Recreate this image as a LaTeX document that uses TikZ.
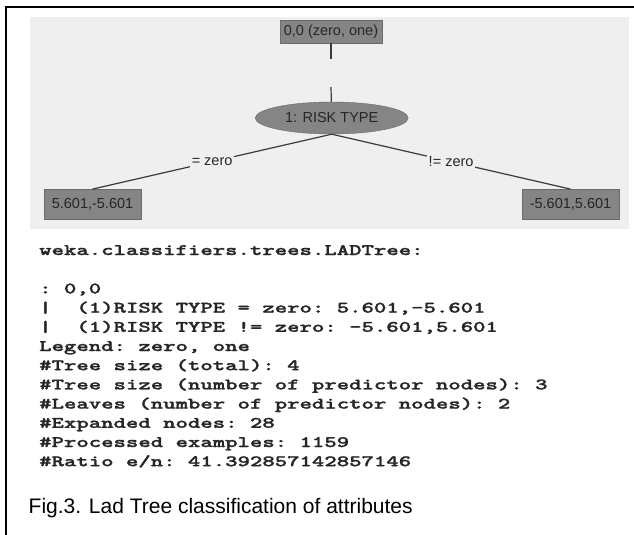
\documentclass[tikz,border=0pt]{standalone}
\usepackage{fontspec}
\setsansfont{Liberation Sans}
\newfontfamily\wekaface{lmmonolt10-bold.otf}[FakeBold=1.3]
\usepackage{tikz}
\usepackage{graphicx}
\usetikzlibrary{shapes.geometric}
\definecolor{panelgray}{HTML}{EFEFEF}
\definecolor{boxgray}{HTML}{858585}
\definecolor{boxedge}{HTML}{6B6B6B}
\definecolor{inkgray}{HTML}{262626}
\definecolor{edgegray}{HTML}{3A3A3A}
\newcommand{\treefont}{\sffamily\fontsize{14.5}{17}\selectfont}
\newcommand{\wekafont}{\wekaface\fontsize{16}{19.2}\selectfont\frenchspacing}

\begin{document}
\begin{tikzpicture}[x=1pt, y=-1pt,
    treebox/.style={draw=boxedge, fill=boxgray, text=inkgray, font=\treefont,
        inner sep=0pt, minimum width=97pt, minimum height=30pt},
    riskellipse/.style={ellipse, draw=boxedge, fill=boxgray, text=inkgray,
        font=\treefont, inner sep=0pt, minimum width=153pt, minimum height=32pt},
    link/.style={draw=edgegray, line width=1.2pt},
    branch/.style={fill=panelgray, text=inkgray, font=\treefont, inner sep=2pt}]
    \useasboundingbox (0,0) rectangle (634,535);

    % Frame
    \draw[line width=2.2pt] (634,7) -- (6,7) -- (6,535);

    % Tree panel
    \fill[panelgray] (30,17) rectangle (629,229);

    % Tree nodes
    \node[treebox, minimum width=102.6pt, minimum height=22.6pt] (root) at (331,32) {0,0 (zero, one)};
    \node[riskellipse] (risk) at (331.7,118) {1: RISK TYPE};
    \node[treebox] (leafL) at (92.5,204.3) {5.601,-5.601};
    \node[treebox] (leafR) at (570.5,204.3) {-5.601,5.601};

    % Links
    \coordinate (gapA) at (331,59);
    \coordinate (gapB) at (331,87);
    \draw[link] (root) -- (gapA);
    \draw[link] (gapB) -- (risk);
    \draw[link] (risk.south) -- node[branch] {= zero} (leafL.north);
    \draw[link] (risk.south) -- node[branch] {!= zero} (leafR.north);

    % Weka output
    \node[anchor=base west, inner sep=0pt, text=black!85, font=\wekafont] (weka) at (39,255)
        {\scalebox{1.476}[1]{\begin{tabular}[t]{@{}l@{}}
        weka.classifiers.trees.LADTree:\\
        \\
        : 0,0\\
        |~~(1)RISK TYPE = zero: 5.601,-5.601\\
        |~~(1)RISK TYPE != zero: -5.601,5.601\\
        Legend: zero, one\\
        \#Tree size (total): 4\\
        \#Tree size (number of predictor nodes): 3\\
        \#Leaves (number of predictor nodes): 2\\
        \#Expanded nodes: 28\\
        \#Processed examples: 1159\\
        \#Ratio e/n: 41.392857142857146
        \end{tabular}}};

    % Caption
    \node[anchor=base west, inner sep=0pt, font=\sffamily\fontsize{21}{25}\selectfont] (caption) at (28.5,513)
        {Fig.3. Lad Tree classification of attributes};
\end{tikzpicture}
\end{document}
